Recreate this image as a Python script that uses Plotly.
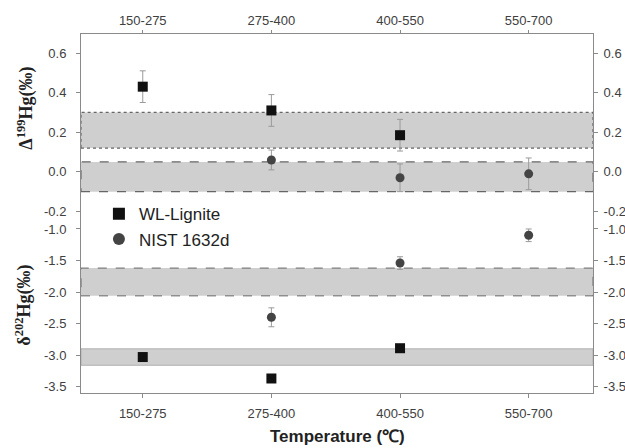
import plotly.graph_objects as go

categories = ["150-275", "275-400", "400-550", "550-700"]
xpos = [0, 1, 2, 3]

# Upper panel: Δ199Hg (‰)
wl_d199 = [0.43, 0.31, 0.185, None]
wl_d199_err = [0.08, 0.08, 0.08, None]
nist_d199 = [None, 0.06, -0.03, -0.01]
nist_d199_err = [None, 0.05, 0.07, 0.08]

# Lower panel: δ202Hg (‰)
wl_d202 = [-3.03, -3.37, -2.89, None]
wl_d202_err = [0.04, 0.04, 0.04, None]
nist_d202 = [None, -2.40, -1.54, -1.10]
nist_d202_err = [None, 0.15, 0.10, 0.10]

# Reference bands (low, high)
upper_band_low = [0.12, -0.10]
upper_band_high = [0.30, 0.05]
lower_band_low = [-2.06, -3.16]
lower_band_high = [-1.62, -2.90]

upper_ticks = [-0.2, 0.0, 0.2, 0.4, 0.6]
lower_ticks = [-3.5, -3.0, -2.5, -2.0, -1.5, -1.0]
upper_ticktext = ["%.1f" % v for v in upper_ticks]
lower_ticktext = ["%.1f" % v for v in lower_ticks]

FONT = "Liberation Sans, Arial, sans-serif"
TICKC = "#404040"
AXC = "#8a8a8a"

fig = go.Figure()

def add_pts(y, err, yax, name, symbol, color, size, show):
    fig.add_trace(go.Scatter(
        x=xpos, y=y, mode="markers", yaxis=yax, name=name,
        legendgroup=name, showlegend=show,
        marker=dict(symbol=symbol, color=color, size=size),
        error_y=dict(type="data", array=[e if e is not None else 0 for e in err],
                     color="#9a9a9a", thickness=1, width=3),
    ))

add_pts(wl_d199, wl_d199_err, "y", "WL-Lignite", "square", "#111111", 10, False)
add_pts(nist_d199, nist_d199_err, "y", "NIST 1632d", "circle", "#444444", 9, False)
add_pts(wl_d202, wl_d202_err, "y2", "WL-Lignite", "square", "#111111", 10, True)
add_pts(nist_d202, nist_d202_err, "y2", "NIST 1632d", "circle", "#444444", 9, True)

shapes = []
for lo, hi, dash in zip(upper_band_low, upper_band_high, ["dot", "dash"]):
    shapes.append(dict(type="rect", xref="x domain", yref="y", x0=0, x1=1, y0=lo, y1=hi,
                       fillcolor="rgba(160,160,160,0.5)", layer="below",
                       line=dict(color="#666666", width=1.2, dash=dash)))
for lo, hi, dash, lc in zip(lower_band_low, lower_band_high, ["dash", "solid"], ["#666666", "#b0b0b0"]):
    shapes.append(dict(type="rect", xref="x domain", yref="y2", x0=0, x1=1, y0=lo, y1=hi,
                       fillcolor="rgba(160,160,160,0.5)", layer="below",
                       line=dict(color=lc, width=1, dash=dash)))

split = 0.482
tickfont = dict(family=FONT, size=13, color=TICKC)
yax_common = dict(showline=True, linecolor=AXC, linewidth=1, ticks="outside", ticklen=4,
                  tickcolor=AXC, showgrid=False, zeroline=False, tickfont=tickfont,
                  automargin=False)

fig.update_layout(
    width=625, height=448,
    margin=dict(l=81, r=32, t=34, b=55, autoexpand=False),
    paper_bgcolor="white", plot_bgcolor="white",
    shapes=shapes,
    xaxis=dict(domain=[0, 1], range=[-0.48, 3.5], tickvals=xpos, ticktext=categories,
               anchor="y2", showline=True, linecolor=AXC, linewidth=1, ticks="outside",
               ticklen=4, tickcolor=AXC, showgrid=False, zeroline=False, tickfont=tickfont,
               automargin=False, ticklabelstandoff=4),
    xaxis2=dict(overlaying="x", side="top", anchor="y", range=[-0.48, 3.5], tickvals=xpos,
                ticktext=categories, showline=True, linecolor=AXC, linewidth=1,
                ticks="outside", ticklen=3, tickcolor=AXC, showgrid=False, zeroline=False,
                tickfont=tickfont, automargin=False),
    yaxis=dict(domain=[split, 1], range=[-0.243, 0.696], tickvals=upper_ticks,
               ticktext=upper_ticktext, anchor="x", ticklabelstandoff=7, **yax_common),
    yaxis3=dict(overlaying="y", side="right", anchor="x", range=[-0.243, 0.696],
                tickvals=upper_ticks, ticktext=upper_ticktext, ticklabelstandoff=3,
                **yax_common),
    yaxis2=dict(domain=[0, split], range=[-3.6, -0.857], tickvals=lower_ticks,
                ticktext=lower_ticktext, anchor="x", ticklabelstandoff=7, **yax_common),
    yaxis4=dict(overlaying="y2", side="right", anchor="x", range=[-3.6, -0.857],
                tickvals=lower_ticks, ticktext=lower_ticktext, ticklabelstandoff=3,
                **yax_common),
    legend=dict(x=0.035, y=0.548, xanchor="left", yanchor="top", bgcolor="rgba(0,0,0,0)",
                font=dict(family=FONT, size=17, color="#222222"), tracegroupgap=0,
                itemsizing="constant"),
    annotations=[
        dict(text="<b>Temperature (\u2103)</b>", xref="paper", yref="paper",
             x=0.5, y=-0.122, xanchor="center", yanchor="middle", showarrow=False,
             font=dict(family=FONT, size=17, color="#222222")),
        dict(text="<b>\u0394<sup>199</sup>Hg(\u2030)</b>", xref="paper", yref="paper",
             x=-0.108, y=0.794, xanchor="center", yanchor="middle", textangle=-90,
             showarrow=False,
             font=dict(family="Liberation Serif, serif", size=18, color="#222222")),
        dict(text="<b>\u03b4<sup>202</sup>Hg(\u2030)</b>", xref="paper", yref="paper",
             x=-0.112, y=0.245, xanchor="center", yanchor="middle", textangle=-90,
             showarrow=False,
             font=dict(family="Liberation Serif, serif", size=18, color="#222222")),
    ],
)

# invisible traces to activate the mirrored axes
fig.add_trace(go.Scatter(x=[None], y=[None], xaxis="x2", yaxis="y3", showlegend=False))
fig.add_trace(go.Scatter(x=[None], y=[None], yaxis="y4", showlegend=False))

fig.write_html("out.html")
